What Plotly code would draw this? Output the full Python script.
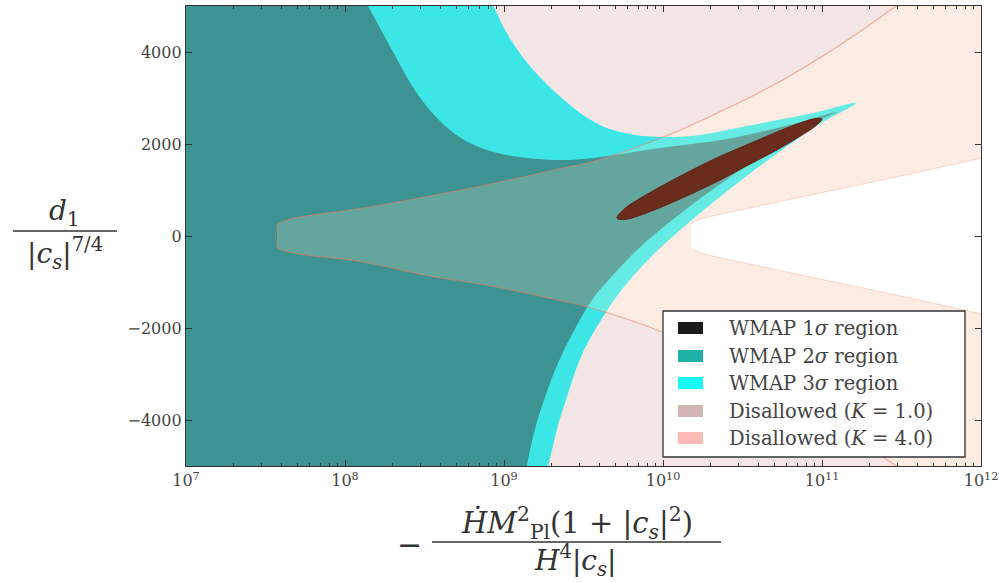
import plotly.graph_objects as go

# ---------------- data ----------------
# x: -Hdot M_Pl^2 (1+|cs|^2) / (H^4 |cs|)      y: d1 / |cs|^(7/4)

# WMAP 3-sigma region boundary (upper branch left->tip, lower branch tip->bottom)
s3_upper_x = [7.594e8, 8.528e8, 1.015e9, 1.243e9, 1.590e9, 2.033e9, 2.601e9, 3.279e9, 4.016e9,
              4.848e9, 6.667e9, 1.060e10, 1.709e10, 3.376e10, 8.778e10, 1.636e11]
s3_upper_y = [5239, 5000, 4478, 4000, 3543, 3174, 2848, 2587, 2413,
              2304, 2196, 2152, 2196, 2391, 2674, 2891]
s3_lower_x = [9.438e10, 5.603e10, 3.424e10, 2.154e10, 1.395e10, 9.302e9, 6.571e9, 4.918e9,
              3.901e9, 3.185e9, 2.756e9, 2.455e9, 2.186e9, 2.004e9, 1.837e9, 1.759e9]
s3_lower_y = [2413, 1870, 1326, 783, 239, -304, -848, -1391,
              -1935, -2478, -3022, -3565, -4109, -4652, -5196, -5522]

# WMAP 2-sigma region boundary
s2_upper_x = [1.279e8, 1.395e8, 1.660e8, 1.975e8, 2.350e8, 2.796e8, 3.327e8, 3.958e8, 4.918e8,
              6.113e8, 8.165e8, 1.243e9, 2.250e9, 3.628e9, 9.575e9, 2.526e10, 6.571e10, 1.243e11]
s2_upper_y = [5239, 5000, 4522, 4043, 3565, 3130, 2783, 2500, 2217,
              2022, 1848, 1717, 1652, 1696, 1913, 2109, 2435, 2696]
s2_lower_x = [8.165e10, 4.575e10, 2.756e10, 1.660e10, 1.044e10, 6.863e9, 4.848e9, 3.576e9,
              2.878e9, 2.385e9, 2.033e9, 1.785e9, 1.590e9, 1.457e9, 1.355e9, 1.298e9]
s2_lower_y = [2413, 1870, 1326, 783, 239, -304, -848, -1391,
              -1935, -2478, -3022, -3565, -4109, -4652, -5196, -5522]

# WMAP 1-sigma region (closed contour)
s1_x = [5.14e9, 5.77e9, 7.93e9, 1.28e10, 2.06e10, 3.52e10, 5.45e10, 7.28e10, 9.04e10, 1.00e11,
        9.04e10, 7.28e10, 5.45e10, 3.52e10, 2.06e10, 1.28e10, 7.93e9, 5.77e9]
s1_y = [391, 600, 905, 1300, 1660, 2010, 2290, 2455, 2552, 2543,
        2385, 2170, 1910, 1560, 1140, 805, 505, 360]

# Boundary of the allowed region for K = 1.0 (everything outside is disallowed)
k1_x = [3.735e7, 3.846e7, 4.710e7, 1.243e8, 3.279e8, 8.528e8, 2.250e9, 3.628e9, 1.060e10,
        2.063e10, 5.443e10, 1.298e11, 2.963e11, 3.846e11]
k1_upper_y = [228, 272, 380, 598, 859, 1141, 1467, 1620, 2185, 2630, 3359, 4152, 5011, 5283]
k1_lower_y = [-228, -272, -370, -554, -859, -1098, -1402, -1576, -2130, -2630, -3359, -4152, -5011, -5283]

# Boundary of the allowed region for K = 4.0
k4_x = [1.500e10, 1.566e10, 5.443e10, 2.316e11, 9.856e11, 1.317e12]
k4_upper_y = [261, 315, 750, 1207, 1685, 1783]
k4_lower_y = [-261, -315, -750, -1207, -1685, -1783]

x_tick_values = [1e7, 1e8, 1e9, 1e10, 1e11, 1e12]
x_tick_labels = ["10<sup>7</sup>", "10<sup>8</sup>", "10<sup>9</sup>",
                 "10<sup>10</sup>", "10<sup>11</sup>", "10<sup>12</sup>"]

legend_labels = ["WMAP 1<i>σ</i> region", "WMAP 2<i>σ</i> region", "WMAP 3<i>σ</i> region",
                 "Disallowed (<i>K</i> = 1.0)", "Disallowed (<i>K</i> = 4.0)"]
legend_colors = ["#1c1c1c", "#20b2aa", "#18f8f8", "#d4b5b5", "#ffbab6"]

# ---------------- figure ----------------
W, H = 999, 582
ML, MR, MT, MB = 186, 18, 6, 116
PW, PH = W - ML - MR, H - MT - MB
XL, XR = 1e6, 1e13      # polygon closure beyond the visible x-range
YT, YB = 8000, -8000    # polygon closure beyond the visible y-range
SERIF = "DejaVu Serif"


def px(xp):
    return (xp - ML) / PW


def py(yp):
    return (H - MB - yp) / PH


fig = go.Figure()


def region(x, y, fill, line=None, shape="spline"):
    fig.add_trace(go.Scatter(
        x=x, y=y, mode="lines", fill="toself", fillcolor=fill,
        line=dict(width=0 if line is None else 1, color=line or fill, shape=shape,
                  smoothing=1 if shape == "spline" else None),
        hoverinfo="skip", showlegend=False))


# WMAP 3 sigma
region([XL] + s3_upper_x + s3_lower_x + [XL],
       [s3_upper_y[0]] + s3_upper_y + s3_lower_y + [s3_lower_y[-1]], "#00ffff")
# WMAP 2 sigma
region([XL] + s2_upper_x + s2_lower_x + [XL],
       [s2_upper_y[0]] + s2_upper_y + s2_lower_y + [s2_lower_y[-1]], "#008b8b")

# Disallowed K=1 (outside of the K=1 allowed wedge)
region([XL, k1_x[-1]] + k1_x[::-1] + k1_x + [k1_x[-1], XL],
       [YT, YT] + k1_upper_y[::-1] + k1_lower_y + [YB, YB], "rgba(220,167,167,0.28)")
# Disallowed K=4 (inside K=1 wedge, outside K=4 wedge)
region(k1_x + [XR, XR] + k1_x[::-1],
       k1_upper_y + [YT, YB] + k1_lower_y[::-1], "rgba(250,207,187,0.40)")
# allowed for both
region(k4_x + [XR, XR] + k4_x[::-1],
       k4_upper_y + [k4_upper_y[-1], k4_lower_y[-1]] + k4_lower_y[::-1], "#ffffff",
       line="rgba(245,170,150,0.45)")

# outline of the K=1 wedge
fig.add_trace(go.Scatter(x=k1_x[::-1] + k1_x, y=k1_upper_y[::-1] + k1_lower_y, mode="lines",
                         line=dict(color="rgba(232,125,95,0.6)", width=1.1, shape="spline",
                                   smoothing=1),
                         hoverinfo="skip", showlegend=False))

# WMAP 1 sigma
region(s1_x + [s1_x[0]], s1_y + [s1_y[0]], "#6a2c1c", line="#5e2516")

# ---------------- manual legend ----------------
shapes = []
annotations = []
lg_x0, lg_x1, lg_y0, lg_y1 = 663, 965, 311, 457
shapes.append(dict(type="rect", xref="paper", yref="paper", x0=px(lg_x0), x1=px(lg_x1),
                   y0=py(lg_y1), y1=py(lg_y0), fillcolor="white",
                   line=dict(color="#333", width=1.3), layer="above"))
rows = [328, 356, 383, 411, 438]
for yc, lab, col in zip(rows, legend_labels, legend_colors):
    shapes.append(dict(type="rect", xref="paper", yref="paper", x0=px(678), x1=px(703),
                       y0=py(yc + 6), y1=py(yc - 6), fillcolor=col, line=dict(width=0),
                       layer="above"))
    annotations.append(dict(xref="paper", yref="paper", x=px(727), y=py(yc), text=lab,
                            showarrow=False, xanchor="left", yanchor="middle",
                            font=dict(family=SERIF, size=19.5, color="#444")))

# ---------------- axis titles (fractions) ----------------
tc = "#333"
# y title
annotations.append(dict(xref="paper", yref="paper", x=px(64), y=py(213),
                        text="<i>d</i><sub>1</sub>", showarrow=False,
                        xanchor="center", yanchor="middle",
                        font=dict(family=SERIF, size=28, color=tc)))
shapes.append(dict(type="line", xref="paper", yref="paper", x0=px(13), x1=px(117),
                   y0=py(231), y1=py(231), line=dict(color=tc, width=1.5)))
annotations.append(dict(xref="paper", yref="paper", x=px(65), y=py(253),
                        text="|<i>c</i><sub><i>s</i></sub>|<sup>7/4</sup>", showarrow=False,
                        xanchor="center", yanchor="middle",
                        font=dict(family=SERIF, size=28, color=tc)))
# x title
annotations.append(dict(xref="paper", yref="paper", x=px(409), y=py(544),
                        text="−", showarrow=False, xanchor="center", yanchor="middle",
                        font=dict(family=SERIF, size=30, color=tc)))
annotations.append(dict(xref="paper", yref="paper", x=px(577), y=py(523),
                        text="<i>Ḣ</i><i>M</i><sup>2</sup><sub>Pl</sub>(1 + |<i>c</i><sub><i>s</i></sub>|<sup>2</sup>)",
                        showarrow=False, xanchor="center", yanchor="middle",
                        font=dict(family=SERIF, size=29, color=tc)))
shapes.append(dict(type="line", xref="paper", yref="paper", x0=px(432), x1=px(721),
                   y0=py(542), y1=py(542), line=dict(color=tc, width=1.5)))
annotations.append(dict(xref="paper", yref="paper", x=px(575), y=py(560),
                        text="<i>H</i><sup>4</sup>|<i>c</i><sub><i>s</i></sub>|",
                        showarrow=False, xanchor="center", yanchor="middle",
                        font=dict(family=SERIF, size=28, color=tc)))

axis_common = dict(showgrid=False, zeroline=False, ticks="inside", ticklen=6, tickcolor="#333",
                   showline=True, linecolor="#333", linewidth=1.3, mirror="allticks",
                   ticklabeloverflow="allow", automargin=False,
                   tickfont=dict(family=SERIF, size=16, color="#444"))
fig.update_xaxes(type="log", range=[7, 12], tickvals=x_tick_values, ticktext=x_tick_labels,
                 minor=dict(ticks="inside", ticklen=3, tickcolor="#333", dtick="D1", showgrid=False),
                 **axis_common)
fig.update_yaxes(range=[-5000, 5000], dtick=2000, tick0=0, tickformat="d", **axis_common)

fig.update_layout(width=W, height=H, margin=dict(l=ML, r=MR, t=MT, b=MB, autoexpand=False),
                  plot_bgcolor="white", paper_bgcolor="white",
                  shapes=shapes, annotations=annotations, showlegend=False,
                  font=dict(family=SERIF))

fig.write_html("out.html")
